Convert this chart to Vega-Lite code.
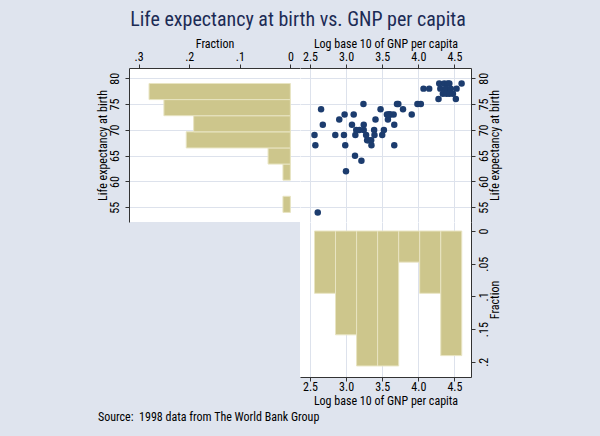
{
  "$schema": "https://vega.github.io/schema/vega-lite/v6.json",
  "background": "#dfe4ee",
  "padding": {"left": 96, "top": 10, "right": 100, "bottom": 15},
  "title": {"text": "Life expectancy at birth vs. GNP per capita", "anchor": "middle", "fontSize": 20, "fontWeight": "normal", "color": "#1c2b55", "offset": 7},
  "datasets": {
    "lexp": [
      {"lo": 54, "hi": 57.125, "frac": 0.0147},
      {"lo": 60.25, "hi": 63.375, "frac": 0.0147},
      {"lo": 63.375, "hi": 66.5, "frac": 0.0441},
      {"lo": 66.5, "hi": 69.625, "frac": 0.2059},
      {"lo": 69.625, "hi": 72.75, "frac": 0.1912},
      {"lo": 72.75, "hi": 75.875, "frac": 0.25},
      {"lo": 75.875, "hi": 79, "frac": 0.2794}
    ],
    "gnp": [
      {"lo": 2.562, "hi": 2.853, "frac": 0.0952},
      {"lo": 2.853, "hi": 3.145, "frac": 0.1587},
      {"lo": 3.145, "hi": 3.436, "frac": 0.2063},
      {"lo": 3.436, "hi": 3.728, "frac": 0.2063},
      {"lo": 3.728, "hi": 4.019, "frac": 0.0476},
      {"lo": 4.019, "hi": 4.311, "frac": 0.0952},
      {"lo": 4.311, "hi": 4.602, "frac": 0.1905}
    ],
    "pts": [
      {"loggnp": 2.562, "lexp": 69}, {"loggnp": 2.574, "lexp": 67}, {"loggnp": 2.607, "lexp": 54},
      {"loggnp": 2.653, "lexp": 74}, {"loggnp": 2.677, "lexp": 71}, {"loggnp": 2.85, "lexp": 69},
      {"loggnp": 2.905, "lexp": 72}, {"loggnp": 2.979, "lexp": 73}, {"loggnp": 2.97, "lexp": 69},
      {"loggnp": 2.988, "lexp": 67}, {"loggnp": 2.998, "lexp": 62}, {"loggnp": 3.105, "lexp": 73},
      {"loggnp": 3.081, "lexp": 71}, {"loggnp": 3.128, "lexp": 69}, {"loggnp": 3.123, "lexp": 65},
      {"loggnp": 3.14, "lexp": 70},
      {"loggnp": 3.212, "lexp": 64}, {"loggnp": 3.24, "lexp": 75}, {"loggnp": 3.184, "lexp": 70},
      {"loggnp": 3.244, "lexp": 71}, {"loggnp": 3.244, "lexp": 70}, {"loggnp": 3.277, "lexp": 69},
      {"loggnp": 3.291, "lexp": 68}, {"loggnp": 3.31, "lexp": 68}, {"loggnp": 3.347, "lexp": 68},
      {"loggnp": 3.351, "lexp": 67}, {"loggnp": 3.388, "lexp": 70}, {"loggnp": 3.393, "lexp": 69},
      {"loggnp": 3.407, "lexp": 72},
      {"loggnp": 3.477, "lexp": 74}, {"loggnp": 3.5, "lexp": 69}, {"loggnp": 3.523, "lexp": 70},
      {"loggnp": 3.565, "lexp": 73}, {"loggnp": 3.59, "lexp": 73}, {"loggnp": 3.616, "lexp": 73},
      {"loggnp": 3.579, "lexp": 72}, {"loggnp": 3.6, "lexp": 73}, {"loggnp": 3.658, "lexp": 73},
      {"loggnp": 3.667, "lexp": 71}, {"loggnp": 3.667, "lexp": 67}, {"loggnp": 3.705, "lexp": 75},
      {"loggnp": 3.723, "lexp": 75},
      {"loggnp": 3.788, "lexp": 74}, {"loggnp": 3.909, "lexp": 73}, {"loggnp": 3.988, "lexp": 75},
      {"loggnp": 4.035, "lexp": 75}, {"loggnp": 4.072, "lexp": 78}, {"loggnp": 4.151, "lexp": 78},
      {"loggnp": 4.29, "lexp": 79}, {"loggnp": 4.28, "lexp": 76}, {"loggnp": 4.305, "lexp": 78},
      {"loggnp": 4.36, "lexp": 79}, {"loggnp": 4.41, "lexp": 79}, {"loggnp": 4.43, "lexp": 79},
      {"loggnp": 4.6, "lexp": 79}, {"loggnp": 4.38, "lexp": 78}, {"loggnp": 4.45, "lexp": 78},
      {"loggnp": 4.53, "lexp": 78}, {"loggnp": 4.34, "lexp": 77}, {"loggnp": 4.39, "lexp": 77},
      {"loggnp": 4.43, "lexp": 77}, {"loggnp": 4.48, "lexp": 77}, {"loggnp": 4.52, "lexp": 76}
    ],
    "note": [
      {"pos": 0, "text": "Source:\u00a0 1998 data from The World Bank Group"}
    ]
  },
  "spacing": 5,
  "vconcat": [
    {
      "spacing": 0,
      "hconcat": [
        {
          "width": 171,
          "height": 154,
          "data": {"name": "lexp"},
          "mark": {"type": "rect", "fill": "#cdc68c", "stroke": "#e8e4c2", "strokeWidth": 1},
          "encoding": {
            "y": {"field": "lo", "type": "quantitative",
              "scale": {"domain": [52.14, 82.0], "nice": false, "zero": false},
              "axis": {"orient": "left", "values": [55, 60, 65, 70, 75, 80], "title": "Life expectancy at birth", "grid": true,
                "labelAngle": -90, "labelAlign": "center", "labelBaseline": "alphabetic", "labelPadding": 6.5, "titlePadding": -0.5}},
            "y2": {"field": "hi"},
            "x": {"field": "frac", "type": "quantitative",
              "scale": {"domain": [-0.019, 0.319], "reverse": true, "nice": false, "zero": false},
              "axis": {"orient": "top", "values": [0, 0.1, 0.2, 0.3], "title": "Fraction", "grid": false, "format": "~g",
                "labelExpr": "replace(datum.label, '0.', '.')"}},
            "x2": {"datum": 0}
          }
        },
        {
          "spacing": 0,
          "vconcat": [
            {
              "width": 171,
              "height": 154,
              "data": {"name": "pts"},
              "mark": {"type": "circle", "size": 42, "color": "#1c3c6e", "opacity": 1},
              "encoding": {
                "x": {"field": "loggnp", "type": "quantitative",
                  "scale": {"domain": [2.361, 4.73], "nice": false, "zero": false},
                  "axis": {"orient": "top", "values": [2.5, 3, 3.5, 4, 4.5], "title": "Log base 10 of GNP per capita", "grid": true}},
                "y": {"field": "lexp", "type": "quantitative",
                  "scale": {"domain": [52.14, 82.0], "nice": false, "zero": false},
                  "axis": {"orient": "right", "values": [55, 60, 65, 70, 75, 80], "title": "Life expectancy at birth", "grid": true,
                    "labelAngle": -90, "labelAlign": "center", "labelBaseline": "top", "labelPadding": 3,
                    "titleAngle": -90, "titleBaseline": "top", "titlePadding": 0}}
              }
            },
            {
              "width": 171,
              "height": 155,
              "data": {"name": "gnp"},
              "mark": {"type": "rect", "fill": "#cdc68c", "stroke": "#e8e4c2", "strokeWidth": 1},
              "encoding": {
                "x": {"field": "lo", "type": "quantitative",
                  "scale": {"domain": [2.361, 4.73], "nice": false, "zero": false},
                  "axis": {"orient": "bottom", "values": [2.5, 3, 3.5, 4, 4.5], "title": "Log base 10 of GNP per capita", "grid": true, "labelPadding": 0, "titlePadding": 3}},
                "x2": {"field": "hi"},
                "y": {"field": "frac", "type": "quantitative",
                  "scale": {"domain": [-0.0138, 0.2232], "reverse": true, "nice": false, "zero": false},
                  "axis": {"orient": "right", "values": [0, 0.05, 0.1, 0.15, 0.2], "title": "Fraction", "grid": false, "format": "~g",
                    "labelExpr": "replace(datum.label, '0.', '.')",
                    "labelAngle": -90, "labelAlign": "center", "labelBaseline": "top", "labelPadding": 3,
                    "titleAngle": -90, "titleBaseline": "top", "titlePadding": 0}},
                "y2": {"datum": 0}
              }
            }
          ]
        }
      ]
    },
    {
      "width": 300,
      "height": 12,
      "view": {"fill": null, "stroke": null},
      "data": {"name": "note"},
      "mark": {"type": "text", "align": "left", "baseline": "middle", "fontSize": 12, "color": "#000000"},
      "encoding": {
        "x": {"field": "pos", "type": "quantitative", "scale": {"domain": [0.0937, 1], "nice": false, "zero": false}, "axis": null},
        "text": {"field": "text"}
      }
    }
  ],
  "config": {
    "font": "Roboto Condensed, Liberation Sans Narrow, DejaVu Sans Condensed, sans-serif",
    "view": {"fill": "white", "stroke": null},
    "axis": {
      "labelFont": "Roboto Condensed, Liberation Sans Narrow, DejaVu Sans Condensed, sans-serif",
      "titleFont": "Roboto Condensed, Liberation Sans Narrow, DejaVu Sans Condensed, sans-serif",
      "labelFontSize": 12, "titleFontSize": 12, "labelColor": "#000000", "titleColor": "#000000",
      "titleFontWeight": "normal", "domainColor": "#333333", "tickColor": "#333333", "tickSize": 4,
      "gridColor": "#dde2ec", "gridWidth": 1, "labelPadding": 1, "titlePadding": 0,
      "labelFlush": false, "labelOverlap": false
    },
    "title": {"font": "Roboto Condensed, Liberation Sans Narrow, DejaVu Sans Condensed, sans-serif"},
    "text": {"font": "Roboto Condensed, Liberation Sans Narrow, DejaVu Sans Condensed, sans-serif"}
  }
}
